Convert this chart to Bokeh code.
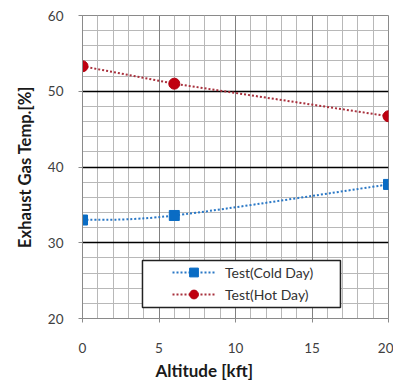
from bokeh.plotting import figure
from bokeh.models import (Range1d, SingleIntervalTicker, FixedTicker, Grid, Legend,
                          LegendItem, BoxAnnotation, Title)
from bokeh.embed import file_html
from bokeh.resources import INLINE

# data
altitude = [0, 6, 20]
cold_day = [33.0, 33.6, 37.7]
hot_day = [53.3, 51.0, 46.7]
x_label = "Altitude [kft]"
y_label = "Exhaust Gas Temp.[%]"
cold_name = "Test(Cold Day)"
hot_name = "Test(Hot Day)"
x_minor = list(range(0, 21))
y_minor = list(range(20, 61, 2))
x_major = [0, 5, 10, 15, 20]
y_major = [20, 30, 40, 50, 60]

FONT = "Lato"

p = figure(frame_width=306, frame_height=303,
           min_border_left=82, min_border_right=5, min_border_top=15, min_border_bottom=10,
           x_range=Range1d(0, 20), y_range=Range1d(20, 60),
           output_backend="svg", toolbar_location=None)
p.background_fill_color = "white"
p.border_fill_color = "white"
p.outline_line_color = "#8a8a8a"

p.xaxis.ticker = FixedTicker(ticks=x_major)
p.yaxis.ticker = FixedTicker(ticks=y_major)
p.xgrid.grid_line_color = None
p.ygrid.grid_line_color = None

p.add_layout(Grid(dimension=0, ticker=FixedTicker(ticks=x_minor), grid_line_color="#b8b8b8"))
p.add_layout(Grid(dimension=1, ticker=FixedTicker(ticks=y_minor), grid_line_color="#b8b8b8"))
p.add_layout(Grid(dimension=0, ticker=FixedTicker(ticks=x_major), grid_line_color="#808080"))
p.add_layout(Grid(dimension=1, ticker=FixedTicker(ticks=y_major), grid_line_color="#000000",
                  grid_line_width=1.3))

for ax in (p.xaxis[0], p.yaxis[0]):
    ax.axis_line_color = "#8a8a8a"
    ax.major_tick_line_color = "#8a8a8a"
    ax.major_tick_out = 4
    ax.major_tick_in = 0
    ax.minor_tick_line_color = None
    ax.major_label_text_font = FONT
    ax.major_label_text_font_size = "13.5px"
    ax.major_label_text_color = "#404040"
    ax.axis_label_text_font = FONT
    ax.axis_label_text_font_size = "16.5px"
    ax.axis_label_text_font_style = "bold"
    ax.axis_label_text_color = "#1a1a1a"

p.yaxis.axis_label = y_label
p.xaxis.major_label_standoff = 20
p.yaxis.major_label_standoff = 15
p.yaxis.axis_label_standoff = 10

xt = Title(text=x_label, align="left", offset=73, text_font=FONT,
           text_font_size="17px", text_font_style="bold", text_color="#1a1a1a",
           standoff=4)
p.add_layout(xt, "below")

# smoothed curve (Excel-style Bezier) for the cold day series
def bez(xs, ys):
    n = len(xs)
    segs = []
    for i in range(n - 1):
        xp = xs[i - 1] if i > 0 else xs[i]
        yp = ys[i - 1] if i > 0 else ys[i]
        xn = xs[i + 2] if i + 2 < n else xs[i + 1]
        yn = ys[i + 2] if i + 2 < n else ys[i + 1]
        c0 = (xs[i] + (xs[i + 1] - xp) / 6, ys[i] + (ys[i + 1] - yp) / 6)
        c1 = (xs[i + 1] - (xn - xs[i]) / 6, ys[i + 1] - (yn - ys[i]) / 6)
        segs.append((xs[i], ys[i], xs[i + 1], ys[i + 1], c0[0], c0[1], c1[0], c1[1]))
    return segs

segs = bez(altitude, cold_day)
cold_line = p.bezier(x0=[s[0] for s in segs], y0=[s[1] for s in segs],
                     x1=[s[2] for s in segs], y1=[s[3] for s in segs],
                     cx0=[s[4] for s in segs], cy0=[s[5] for s in segs],
                     cx1=[s[6] for s in segs], cy1=[s[7] for s in segs],
                     line_color="#2a78c6", line_width=2, line_dash="2 2")
cold_m = p.scatter(altitude, cold_day, marker="square", size=10,
                   fill_color="#0a6cc4", line_color="#0a6cc4")

hot_line = p.line(altitude, hot_day, line_color="#a8303c", line_width=2, line_dash="2 2")
hot_m = p.scatter(altitude, hot_day, marker="circle", size=11,
                  fill_color="#c00010", line_color="#b00010")

# legend frame
box = BoxAnnotation(left=3.92, right=16.86, top=27.66, bottom=21.45,
                    fill_color="white", fill_alpha=1,
                    line_color="#222222", line_width=1.5, line_alpha=1)
p.add_layout(box)

legend = Legend(items=[LegendItem(label=cold_name, renderers=[cold_line, cold_m]),
                       LegendItem(label=hot_name, renderers=[hot_line, hot_m])],
                location=(90, 13))
legend.border_line_color = None
legend.background_fill_alpha = 0
legend.label_text_font = FONT
legend.label_text_font_size = "14px"
legend.label_text_color = "#333333"
legend.glyph_width = 43
legend.glyph_height = 22
legend.label_standoff = 10
legend.label_height = 22
legend.padding = 0
legend.margin = 0
legend.spacing = 0
p.add_layout(legend, "center")

open("out.html", "w").write(file_html(p, INLINE))
